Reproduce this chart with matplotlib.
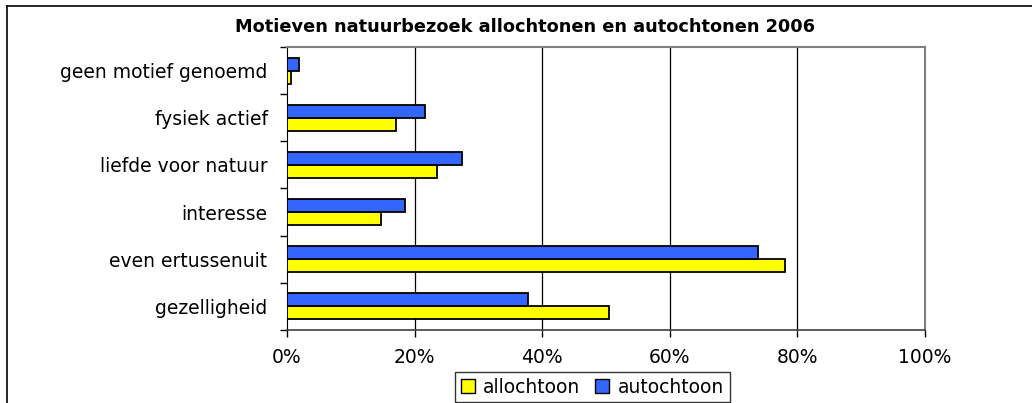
import numpy as np
import matplotlib
matplotlib.use("Agg")
import matplotlib.pyplot as plt
from matplotlib.lines import Line2D
from matplotlib.patches import Patch

# data (bottom to top, as in the source chart)
categories = ["gezelligheid", "even ertussenuit", "interesse",
              "liefde voor natuur", "fysiek actief", "geen motief genoemd"]
allochtoon = [50.5, 78.1, 14.7, 23.5, 17.1, 0.7]
autochtoon = [37.8, 73.8, 18.5, 27.5, 21.6, 1.9]
xticks = [0, 20, 40, 60, 80, 100]
title = "Motieven natuurbezoek allochtonen en autochtonen 2006"

YELLOW = "#FFFF00"
BLUE = "#3366FF"


def main():
    plt.rcParams['font.family'] = ['DejaVu Sans']
    W, H = 1032, 403
    fig = plt.figure(figsize=(W / 100, H / 100), dpi=100)

    # outer chart frame (only left and top visible, rest cropped)
    fig.add_artist(Line2D([7 / W, 7 / W], [0, 1 - 6 / H], transform=fig.transFigure,
                          color="black", lw=1.2))
    fig.add_artist(Line2D([7 / W, 1], [1 - 6 / H, 1 - 6 / H], transform=fig.transFigure,
                          color="black", lw=1.2))

    left, right, top, bottom = 287, 925, 47, 330
    ax = fig.add_axes([left / W, 1 - bottom / H, (right - left) / W, (bottom - top) / H])

    y = np.arange(len(categories))
    h = 0.275
    ax.barh(y - h / 2, allochtoon, height=h, color=YELLOW, edgecolor="black",
            linewidth=1.3, label="allochtoon", zorder=3)
    ax.barh(y + h / 2, autochtoon, height=h, color=BLUE, edgecolor="black",
            linewidth=1.3, label="autochtoon", zorder=3)

    ax.set_xlim(0, 100)
    ax.set_ylim(-0.5, len(categories) - 0.5)
    ax.set_xticks(xticks)
    ax.set_xticklabels([f"{v}%" for v in xticks], fontsize=13.5)
    ax.set_yticks(y)
    ax.set_yticklabels(categories, fontsize=13.5)
    ax.set_yticks(np.arange(len(categories) + 1) - 0.5, minor=True)
    ax.tick_params(axis="y", which="major", length=0, pad=14)
    ax.tick_params(axis="y", which="minor", length=5, width=1, color="black")
    ax.tick_params(axis="x", length=5, width=1, color="black", pad=8)

    for v in xticks[1:-1]:
        ax.axvline(v, color="black", lw=0.9, zorder=1)

    for s in ["top", "right"]:
        ax.spines[s].set_color("#808080")
        ax.spines[s].set_linewidth(1.5)
    ax.spines["left"].set_color("black")
    ax.spines["bottom"].set_color("#404040")
    ax.spines["bottom"].set_linewidth(1.2)

    fig.text(525 / W, 1 - 27 / H, title, ha="center", va="center",
             fontsize=12.8, fontweight="bold")

    handles = [Patch(facecolor=YELLOW, edgecolor="black", label="allochtoon"),
               Patch(facecolor=BLUE, edgecolor="black", label="autochtoon")]
    leg = fig.legend(handles=handles, loc="upper left", ncol=2,
                     bbox_to_anchor=(455 / W, 1 - 372 / H), fontsize=13.5,
                     frameon=True, fancybox=False, edgecolor="black",
                     handlelength=0.75, handleheight=0.75, handletextpad=0.45,
                     columnspacing=0.8, borderpad=0.3, borderaxespad=0)
    leg.get_frame().set_linewidth(1.0)

    plt.savefig("out.png", dpi=100)


if __name__ == "__main__":
    main()
